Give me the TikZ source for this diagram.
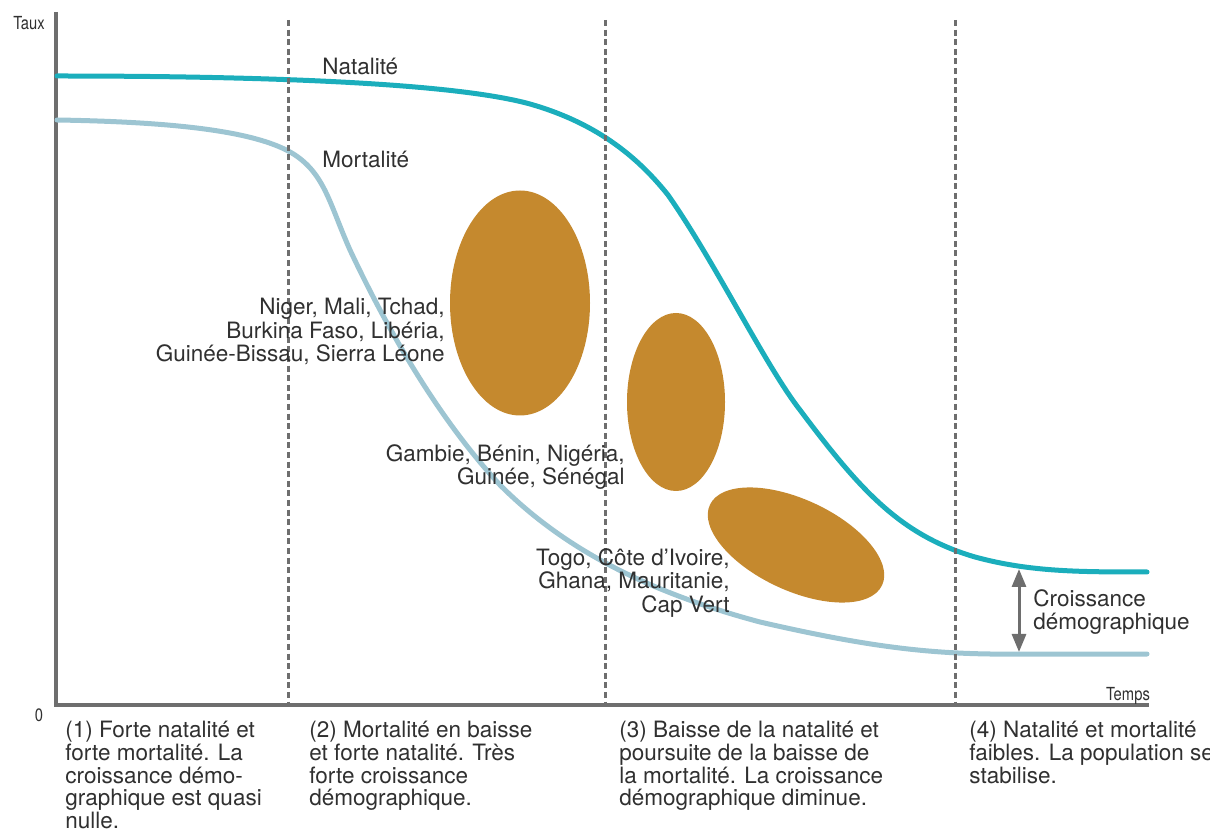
\documentclass[tikz,border=0pt]{standalone}
\usepackage{fontspec}
\setmainfont{TeX Gyre Heros}
\newfontfamily\condfont[FakeStretch=0.82]{TeX Gyre Heros}
\usetikzlibrary{shapes.geometric, arrows.meta, positioning}

\definecolor{natcol}{HTML}{1BAEBC}
\definecolor{mortcol}{HTML}{9DC5D2}
\definecolor{blobcol}{HTML}{C5892E}
\definecolor{axiscol}{HTML}{6E6E6E}
\definecolor{textcol}{HTML}{303030}

\begin{document}
\begin{tikzpicture}[x=0.5pt, y=-0.5pt, >={Triangle[length=9pt, width=7pt]},
  label/.style={font=\fontsize{11.25}{11.75}\selectfont, text=textcol, inner sep=0pt},
  small/.style={font=\condfont\fontsize{9}{10}\selectfont, text=textcol, inner sep=0pt},
  blob/.style={ellipse, fill=blobcol, inner sep=0pt, outer sep=0pt},
  country/.style={label, align=right, anchor=north east},
  phase/.style={label, font=\fontsize{11.25}{11.35}\selectfont, align=left, anchor=north west},
  divider/.style={axiscol, line width=1.5pt, dash pattern=on 3pt off 1.8pt},
  curve/.style={line width=2.5pt, line cap=round}]

\useasboundingbox (0,0) rectangle (1210,833);
\clip (0,0) rectangle (1210,833);

% axes
\coordinate (ytop) at (56,12);
\coordinate (origin) at (56,705);
\coordinate (xend) at (1149,705);
\draw[axiscol, line width=2.4pt] (ytop) -- (origin) -- (xend);

\node[small] (taux) at (29,23) {Taux};
\node[small] (zero) at (39,715) {0};
\node[small, anchor=base] (temps) at (1128,700) {Temps};

% curves
\draw[curve, mortcol] (57,120) .. controls (180,122) and (260,132) .. (295,155)
  .. controls (325,175) and (330,205) .. (350,250)
  .. controls (390,335) and (440,420) .. (500,485)
  .. controls (560,545) and (640,590) .. (760,622)
  .. controls (860,645) and (920,653) .. (990,654) -- (1147,654);
\draw[curve, natcol] (57,76) .. controls (250,76) and (450,82) .. (530,104)
  .. controls (600,124) and (640,160) .. (668,195)
  .. controls (715,262) and (765,365) .. (800,410)
  .. controls (860,490) and (900,535) .. (975,557)
  .. controls (1030,572) and (1080,572) .. (1147,572);

% groups of countries
\node[blob, minimum width=70pt, minimum height=112.5pt] (sahel) at (520,303) {};
\node[blob, minimum width=49pt, minimum height=89pt] (golfe) at (676,402) {};
\node[blob, minimum width=95pt, minimum height=45.5pt, rotate=-25] (ouest) at (796,545) {};

% phases
\foreach \x [count=\i] in {288,605,955} {
  \coordinate (dtop\i) at (\x,20);
  \coordinate (dbot\i) at (\x,705);
  \draw[divider] (dtop\i) -- (dbot\i);
}

\node[label, anchor=base west] (natlab) at (322,75) {Natalité};
\node[label, anchor=base west] (mortlab) at (322,168) {Mortalité};

\node[country] (sahellab) at (445,298) {Niger, Mali, Tchad,\\Burkina Faso, Libéria,\\Guinée-Bissau, Sierra Léone};
\node[country] (golfelab) at (625,444) {Gambie, Bénin, Nigéria,\\Guinée, Sénégal};
\node[country] (ouestlab) at (730,548) {Togo, Côte d’Ivoire,\\Ghana, Mauritanie,\\Cap Vert};

% growth gap
\coordinate (gaptop) at (1019,569);
\coordinate (gapbot) at (1019,652);
\draw[<->, axiscol, line width=1.5pt] (gaptop) -- (gapbot);
\node[label, align=left, anchor=north west] (gaplab) at (1033,589) {Croissance\\démographique};

\node[phase] (phase1) at (65,721) {(1) Forte natalité et\\forte mortalité. La\\croissance démo-\\graphique est quasi\\nulle.};
\node[phase] (phase2) at (309,721) {(2) Mortalité en baisse\\et forte natalité. Très\\forte croissance\\démographique.};
\node[phase] (phase3) at (619,721) {(3) Baisse de la natalité et\\poursuite de la baisse de\\la mortalité. La croissance\\démographique diminue.};
\node[phase] (phase4) at (969,721) {(4) Natalité et mortalité\\faibles. La population se\\stabilise.};

\end{tikzpicture}
\end{document}
